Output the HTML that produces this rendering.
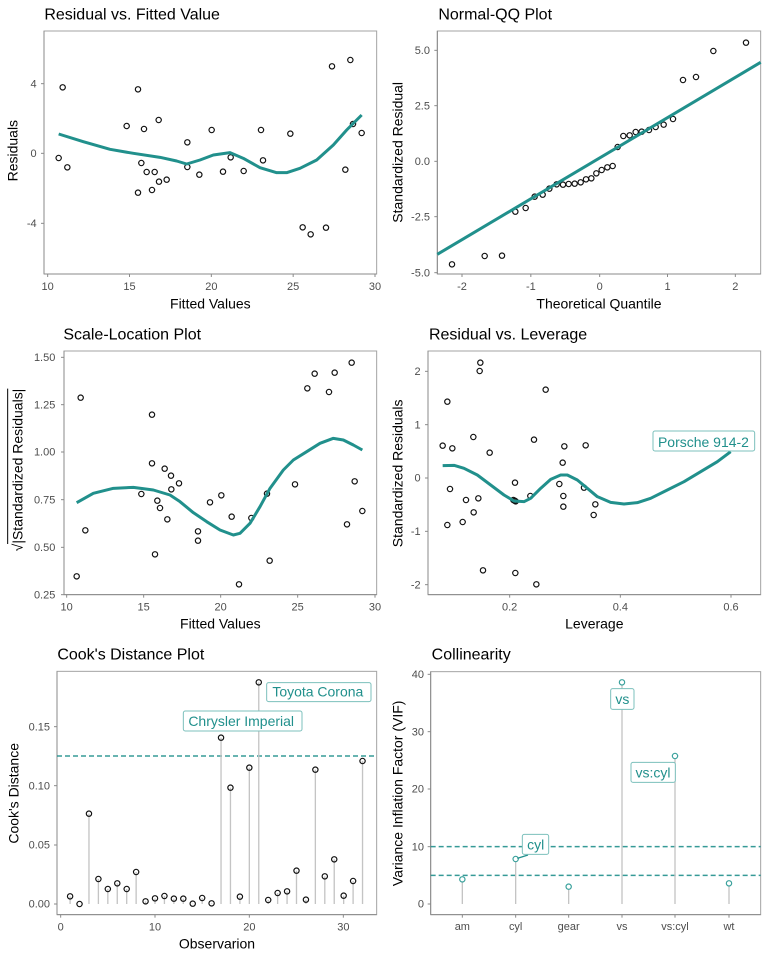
<!DOCTYPE html>
<html><head><meta charset="utf-8"><style>
html,body{margin:0;padding:0;background:#fff;}
svg{display:block;font-family:"Liberation Sans",Arial,sans-serif;}
.t{font-size:48px;fill:#000;}
.tk{font-size:33px;fill:#4d4d4d;}
.at{font-size:42px;fill:#000;}
.bd{fill:none;stroke:#a3a3a3;stroke-width:3;}
.ax{stroke:#8a8a8a;stroke-width:3;}
.pt circle{fill:none;stroke:#111;stroke-width:3.5;}
.cv{fill:none;stroke:#21908C;stroke-width:9;stroke-linejoin:round;stroke-linecap:butt;}
.dash{stroke:#21908C;stroke-width:4.5;stroke-dasharray:15 9;opacity:0.9;}
.stem{stroke:#c4c4c4;stroke-width:4;}
.lb rect{fill:#fff;stroke:#7cc0bc;stroke-width:3;}
.lb text{font-size:42px;fill:#21908C;}
</style></head><body>
<svg width="768" height="960" viewBox="0 0 768 960" xmlns="http://www.w3.org/2000/svg">

<!-- Panel 1 -->
<g transform="translate(0,0) scale(0.333333)">
<text class="t" x="133" y="58">Residual vs. Fitted Value</text>
<rect class="bd" x="132" y="93" width="998" height="729"/>
<line class="ax" x1="132" y1="93" x2="132" y2="822"/><line class="ax" x1="132" y1="822" x2="1130" y2="822"/>
<g class="ax"><line x1="143" y1="822" x2="143" y2="831"/><line x1="388.5" y1="822" x2="388.5" y2="831"/><line x1="634" y1="822" x2="634" y2="831"/><line x1="879.5" y1="822" x2="879.5" y2="831"/><line x1="1125" y1="822" x2="1125" y2="831"/>
<line x1="123" y1="251" x2="132" y2="251"/><line x1="123" y1="460" x2="132" y2="460"/><line x1="123" y1="670" x2="132" y2="670"/></g>
<g class="tk" text-anchor="middle"><text x="143" y="870">10</text><text x="388.5" y="870">15</text><text x="634" y="870">20</text><text x="879.5" y="870">25</text><text x="1125" y="870">30</text></g>
<g class="tk" text-anchor="end"><text x="110" y="262">4</text><text x="110" y="471">0</text><text x="110" y="681">-4</text></g>
<text class="at" x="631" y="925" text-anchor="middle">Fitted Values</text>
<text class="at" transform="translate(53,452) rotate(-90)" text-anchor="middle">Residuals</text>
<g class="pt">
<circle cx="176" cy="474" r="8"/><circle cx="188" cy="262" r="8"/><circle cx="202" cy="502" r="8"/><circle cx="380" cy="378" r="8"/><circle cx="414" cy="268" r="8"/><circle cx="414" cy="578" r="8"/><circle cx="424" cy="489" r="8"/><circle cx="432" cy="387" r="8"/><circle cx="440" cy="516" r="8"/><circle cx="456" cy="570" r="8"/><circle cx="464" cy="516" r="8"/><circle cx="476" cy="360" r="8"/><circle cx="477" cy="545" r="8"/><circle cx="500" cy="539" r="8"/><circle cx="562" cy="427" r="8"/><circle cx="562" cy="501" r="8"/><circle cx="598" cy="524" r="8"/><circle cx="635" cy="390" r="8"/><circle cx="669" cy="515" r="8"/><circle cx="692" cy="472" r="8"/><circle cx="731" cy="513" r="8"/><circle cx="783" cy="390" r="8"/><circle cx="789" cy="481" r="8"/><circle cx="871" cy="401" r="8"/><circle cx="908" cy="682" r="8"/><circle cx="932" cy="703" r="8"/><circle cx="978" cy="683" r="8"/><circle cx="996" cy="199" r="8"/><circle cx="1036" cy="509" r="8"/><circle cx="1051" cy="180" r="8"/><circle cx="1059" cy="372" r="8"/><circle cx="1085" cy="399" r="8"/>
</g>
<polyline class="cv" points="176,402 250,425 330,448 400,460 480,472 530,483 560,492 600,480 640,465 690,458 730,475 780,503 830,518 860,518 900,505 950,480 1000,435 1040,390 1085,345"/>
</g>

<!-- Panel 2 -->
<g transform="translate(384,0) scale(0.333333)">
<text class="t" x="163" y="58">Normal-QQ Plot</text>
<rect class="bd" x="160" y="93" width="970" height="729"/>
<line class="ax" x1="160" y1="93" x2="160" y2="822"/><line class="ax" x1="160" y1="822" x2="1130" y2="822"/>
<g class="ax"><line x1="234" y1="822" x2="234" y2="831"/><line x1="440.5" y1="822" x2="440.5" y2="831"/><line x1="647" y1="822" x2="647" y2="831"/><line x1="850.5" y1="822" x2="850.5" y2="831"/><line x1="1054" y1="822" x2="1054" y2="831"/>
<line x1="151" y1="151" x2="160" y2="151"/><line x1="151" y1="317" x2="160" y2="317"/><line x1="151" y1="484" x2="160" y2="484"/><line x1="151" y1="650" x2="160" y2="650"/><line x1="151" y1="818" x2="160" y2="818"/></g>
<g class="tk" text-anchor="middle"><text x="234" y="870">-2</text><text x="440.5" y="870">-1</text><text x="647" y="870">0</text><text x="850.5" y="870">1</text><text x="1054" y="870">2</text></g>
<g class="tk" text-anchor="end"><text x="138" y="162">5.0</text><text x="138" y="328">2.5</text><text x="138" y="495">0.0</text><text x="138" y="661">-2.5</text><text x="138" y="829">-5.0</text></g>
<text class="at" x="645" y="925" text-anchor="middle">Theoretical Quantile</text>
<text class="at" transform="translate(55,457) rotate(-90)" text-anchor="middle">Standardized Residual</text>
<g class="pt">
<circle cx="204" cy="793" r="8"/><circle cx="302" cy="768" r="8"/><circle cx="354" cy="767" r="8"/><circle cx="394" cy="635" r="8"/><circle cx="425" cy="624" r="8"/><circle cx="452" cy="590" r="8"/><circle cx="476" cy="584" r="8"/><circle cx="496" cy="566" r="8"/><circle cx="518" cy="553" r="8"/><circle cx="537" cy="554" r="8"/><circle cx="554" cy="552" r="8"/><circle cx="572" cy="551" r="8"/><circle cx="590" cy="547" r="8"/><circle cx="606" cy="538" r="8"/><circle cx="622" cy="535" r="8"/><circle cx="637" cy="520" r="8"/><circle cx="653" cy="510" r="8"/><circle cx="670" cy="502" r="8"/><circle cx="686" cy="498" r="8"/><circle cx="701" cy="441" r="8"/><circle cx="718" cy="408" r="8"/><circle cx="737" cy="406" r="8"/><circle cx="755" cy="396" r="8"/><circle cx="773" cy="395" r="8"/><circle cx="795" cy="390" r="8"/><circle cx="815" cy="381" r="8"/><circle cx="839" cy="374" r="8"/><circle cx="867" cy="357" r="8"/><circle cx="897" cy="240" r="8"/><circle cx="936" cy="231" r="8"/><circle cx="988" cy="153" r="8"/><circle cx="1086" cy="128" r="8"/>
</g>
<line class="cv" x1="160" y1="763" x2="1130" y2="187"/>
</g>

<!-- Panel 3 -->
<g transform="translate(0,320) scale(0.333333)">
<text class="t" x="190" y="58">Scale-Location Plot</text>
<rect class="bd" x="192" y="93" width="938" height="731"/>
<line class="ax" x1="192" y1="93" x2="192" y2="824"/><line class="ax" x1="192" y1="824" x2="1130" y2="824"/>
<g class="ax"><line x1="200" y1="824" x2="200" y2="833"/><line x1="431" y1="824" x2="431" y2="833"/><line x1="662" y1="824" x2="662" y2="833"/><line x1="893" y1="824" x2="893" y2="833"/><line x1="1125" y1="824" x2="1125" y2="833"/>
<line x1="183" y1="112" x2="192" y2="112"/><line x1="183" y1="254" x2="192" y2="254"/><line x1="183" y1="396" x2="192" y2="396"/><line x1="183" y1="539" x2="192" y2="539"/><line x1="183" y1="682" x2="192" y2="682"/><line x1="183" y1="824" x2="192" y2="824"/></g>
<g class="tk" text-anchor="middle"><text x="200" y="872">10</text><text x="431" y="872">15</text><text x="662" y="872">20</text><text x="893" y="872">25</text><text x="1125" y="872">30</text></g>
<g class="tk" text-anchor="end"><text x="166" y="123">1.50</text><text x="166" y="265">1.25</text><text x="166" y="407">1.00</text><text x="166" y="550">0.75</text><text x="166" y="693">0.50</text><text x="166" y="835">0.25</text></g>
<text class="at" x="661" y="925" text-anchor="middle">Fitted Values</text>
<text class="at" transform="translate(68,450) rotate(-90)" text-anchor="middle">√|Standardized Residuals|</text>
<line x1="23" y1="206" x2="23" y2="672" stroke="#000" stroke-width="3"/>
<g class="pt">
<circle cx="230" cy="769" r="8"/><circle cx="242" cy="233" r="8"/><circle cx="256" cy="631" r="8"/><circle cx="424" cy="522" r="8"/><circle cx="456" cy="284" r="8"/><circle cx="456" cy="430" r="8"/><circle cx="465" cy="703" r="8"/><circle cx="472" cy="542" r="8"/><circle cx="480" cy="564" r="8"/><circle cx="494" cy="446" r="8"/><circle cx="502" cy="598" r="8"/><circle cx="513" cy="467" r="8"/><circle cx="514" cy="508" r="8"/><circle cx="537" cy="490" r="8"/><circle cx="594" cy="634" r="8"/><circle cx="594" cy="662" r="8"/><circle cx="630" cy="547" r="8"/><circle cx="664" cy="526" r="8"/><circle cx="695" cy="590" r="8"/><circle cx="717" cy="793" r="8"/><circle cx="754" cy="594" r="8"/><circle cx="801" cy="521" r="8"/><circle cx="809" cy="722" r="8"/><circle cx="885" cy="493" r="8"/><circle cx="922" cy="205" r="8"/><circle cx="944" cy="161" r="8"/><circle cx="987" cy="216" r="8"/><circle cx="1004" cy="158" r="8"/><circle cx="1041" cy="613" r="8"/><circle cx="1055" cy="128" r="8"/><circle cx="1064" cy="484" r="8"/><circle cx="1087" cy="573" r="8"/>
</g>
<polyline class="cv" points="230,548 280,520 340,505 400,502 460,510 510,525 540,545 580,578 620,605 660,630 700,645 720,640 750,610 780,560 810,505 850,450 880,420 920,395 960,370 1000,355 1030,360 1060,375 1087,390"/>
</g>

<!-- Panel 4 -->
<g transform="translate(384,320) scale(0.333333)">
<text class="t" x="135" y="58">Residual vs. Leverage</text>
<rect class="bd" x="132" y="93" width="998" height="731"/>
<line class="ax" x1="132" y1="93" x2="132" y2="824"/><line class="ax" x1="132" y1="824" x2="1130" y2="824"/>
<g class="ax"><line x1="377" y1="824" x2="377" y2="833"/><line x1="709" y1="824" x2="709" y2="833"/><line x1="1041" y1="824" x2="1041" y2="833"/>
<line x1="123" y1="154" x2="132" y2="154"/><line x1="123" y1="314" x2="132" y2="314"/><line x1="123" y1="474" x2="132" y2="474"/><line x1="123" y1="634" x2="132" y2="634"/><line x1="123" y1="794" x2="132" y2="794"/></g>
<g class="tk" text-anchor="middle"><text x="377" y="872">0.2</text><text x="709" y="872">0.4</text><text x="1041" y="872">0.6</text></g>
<g class="tk" text-anchor="end"><text x="110" y="165">2</text><text x="110" y="325">1</text><text x="110" y="485">0</text><text x="110" y="645">-1</text><text x="110" y="805">-2</text></g>
<text class="at" x="631" y="925" text-anchor="middle">Leverage</text>
<text class="at" transform="translate(55,460) rotate(-90)" text-anchor="middle">Standardized Residuals</text>
<g class="pt">
<circle cx="176" cy="377" r="8"/><circle cx="190" cy="245" r="8"/><circle cx="190" cy="615" r="8"/><circle cx="198" cy="507" r="8"/><circle cx="205" cy="385" r="8"/><circle cx="236" cy="606" r="8"/><circle cx="246" cy="540" r="8"/><circle cx="268" cy="351" r="8"/><circle cx="269" cy="577" r="8"/><circle cx="283" cy="535" r="8"/><circle cx="287" cy="153" r="8"/><circle cx="289" cy="128" r="8"/><circle cx="297" cy="751" r="8"/><circle cx="317" cy="398" r="8"/><circle cx="393" cy="488" r="8"/><circle cx="392" cy="542" r="8"/><circle cx="388" cy="540" r="8"/><circle cx="395" cy="544" r="8"/><circle cx="394" cy="759" r="8"/><circle cx="439" cy="528" r="8"/><circle cx="450" cy="359" r="8"/><circle cx="457" cy="793" r="8"/><circle cx="485" cy="209" r="8"/><circle cx="526" cy="492" r="8"/><circle cx="536" cy="428" r="8"/><circle cx="538" cy="528" r="8"/><circle cx="538" cy="560" r="8"/><circle cx="541" cy="379" r="8"/><circle cx="600" cy="503" r="8"/><circle cx="605" cy="376" r="8"/><circle cx="629" cy="585" r="8"/><circle cx="634" cy="553" r="8"/>
</g>
<polyline class="cv" points="176,437 210,436 240,445 280,465 320,495 360,525 390,543 420,545 440,535 470,505 500,478 530,465 550,465 580,480 610,505 640,530 680,547 720,552 760,548 800,535 850,510 900,485 950,455 1000,425 1040,395"/>
<g class="lb"><rect x="807" y="333" width="305" height="60" rx="6"/><text x="822" y="381">Porsche 914-2</text></g>
</g>

<!-- Panel 5 -->
<g transform="translate(0,640) scale(0.333333)">
<text class="t" x="172" y="58">Cook's Distance Plot</text>
<rect class="bd" x="171" y="94" width="959" height="730"/>
<line class="ax" x1="171" y1="94" x2="171" y2="824"/><line class="ax" x1="171" y1="824" x2="1130" y2="824"/>
<g class="ax"><line x1="182" y1="824" x2="182" y2="833"/><line x1="465" y1="824" x2="465" y2="833"/><line x1="748" y1="824" x2="748" y2="833"/><line x1="1030" y1="824" x2="1030" y2="833"/>
<line x1="162" y1="260" x2="171" y2="260"/><line x1="162" y1="437" x2="171" y2="437"/><line x1="162" y1="615" x2="171" y2="615"/><line x1="162" y1="792" x2="171" y2="792"/></g>
<g class="tk" text-anchor="middle"><text x="182" y="872">0</text><text x="465" y="872">10</text><text x="748" y="872">20</text><text x="1030" y="872">30</text></g>
<g class="tk" text-anchor="end"><text x="150" y="271">0.15</text><text x="150" y="448">0.10</text><text x="150" y="626">0.05</text><text x="150" y="803">0.00</text></g>
<text class="at" x="651" y="925" text-anchor="middle">Observarion</text>
<text class="at" transform="translate(55,460) rotate(-90)" text-anchor="middle">Cook's Distance</text>
<line class="dash" x1="171" y1="348" x2="1130" y2="348"/>
<g class="stem">
<line x1="210.3" y1="792" x2="210.3" y2="769"/><line x1="238.6" y1="792" x2="238.6" y2="792"/><line x1="266.9" y1="792" x2="266.9" y2="521"/><line x1="295.2" y1="792" x2="295.2" y2="717"/><line x1="323.5" y1="792" x2="323.5" y2="747"/><line x1="351.8" y1="792" x2="351.8" y2="730"/><line x1="380.1" y1="792" x2="380.1" y2="747"/><line x1="408.4" y1="792" x2="408.4" y2="696"/><line x1="436.7" y1="792" x2="436.7" y2="784"/><line x1="465" y1="792" x2="465" y2="775"/><line x1="493.3" y1="792" x2="493.3" y2="768"/><line x1="521.6" y1="792" x2="521.6" y2="776"/><line x1="549.9" y1="792" x2="549.9" y2="776"/><line x1="578.2" y1="792" x2="578.2" y2="791"/><line x1="606.5" y1="792" x2="606.5" y2="774"/><line x1="634.8" y1="792" x2="634.8" y2="790"/><line x1="663.1" y1="792" x2="663.1" y2="293"/><line x1="691.4" y1="792" x2="691.4" y2="443"/><line x1="719.7" y1="792" x2="719.7" y2="770"/><line x1="748" y1="792" x2="748" y2="383"/><line x1="776.3" y1="792" x2="776.3" y2="127"/><line x1="804.6" y1="792" x2="804.6" y2="780"/><line x1="832.9" y1="792" x2="832.9" y2="759"/><line x1="861.2" y1="792" x2="861.2" y2="754"/><line x1="889.5" y1="792" x2="889.5" y2="692"/><line x1="917.8" y1="792" x2="917.8" y2="779"/><line x1="946.1" y1="792" x2="946.1" y2="389"/><line x1="974.4" y1="792" x2="974.4" y2="709"/><line x1="1002.7" y1="792" x2="1002.7" y2="658"/><line x1="1031" y1="792" x2="1031" y2="767"/><line x1="1059.3" y1="792" x2="1059.3" y2="723"/><line x1="1087.6" y1="792" x2="1087.6" y2="363"/>
</g>
<g class="pt">
<circle cx="210.3" cy="769" r="8"/><circle cx="238.6" cy="792" r="8"/><circle cx="266.9" cy="521" r="8"/><circle cx="295.2" cy="717" r="8"/><circle cx="323.5" cy="747" r="8"/><circle cx="351.8" cy="730" r="8"/><circle cx="380.1" cy="747" r="8"/><circle cx="408.4" cy="696" r="8"/><circle cx="436.7" cy="784" r="8"/><circle cx="465" cy="775" r="8"/><circle cx="493.3" cy="768" r="8"/><circle cx="521.6" cy="776" r="8"/><circle cx="549.9" cy="776" r="8"/><circle cx="578.2" cy="791" r="8"/><circle cx="606.5" cy="774" r="8"/><circle cx="634.8" cy="790" r="8"/><circle cx="663.1" cy="293" r="8"/><circle cx="691.4" cy="443" r="8"/><circle cx="719.7" cy="770" r="8"/><circle cx="748" cy="383" r="8"/><circle cx="776.3" cy="127" r="8"/><circle cx="804.6" cy="780" r="8"/><circle cx="832.9" cy="759" r="8"/><circle cx="861.2" cy="754" r="8"/><circle cx="889.5" cy="692" r="8"/><circle cx="917.8" cy="779" r="8"/><circle cx="946.1" cy="389" r="8"/><circle cx="974.4" cy="709" r="8"/><circle cx="1002.7" cy="658" r="8"/><circle cx="1031" cy="767" r="8"/><circle cx="1059.3" cy="723" r="8"/><circle cx="1087.6" cy="363" r="8"/>
</g>
<g class="lb"><rect x="550" y="213" width="356" height="60" rx="6"/><text x="565" y="258">Chrysler Imperial</text></g>
<g class="lb"><rect x="800" y="128" width="313" height="57" rx="6"/><text x="817" y="170">Toyota Corona</text></g>
</g>

<!-- Panel 6 -->
<g transform="translate(384,640) scale(0.333333)">
<text class="t" x="143" y="58">Collinearity</text>
<rect class="bd" x="140" y="95" width="990" height="729"/>
<line class="ax" x1="140" y1="95" x2="140" y2="824"/><line class="ax" x1="140" y1="824" x2="1130" y2="824"/>
<g class="ax"><line x1="235" y1="824" x2="235" y2="833"/><line x1="395" y1="824" x2="395" y2="833"/><line x1="554" y1="824" x2="554" y2="833"/><line x1="714" y1="824" x2="714" y2="833"/><line x1="873" y1="824" x2="873" y2="833"/><line x1="1035" y1="824" x2="1035" y2="833"/>
<line x1="131" y1="103" x2="140" y2="103"/><line x1="131" y1="275" x2="140" y2="275"/><line x1="131" y1="447" x2="140" y2="447"/><line x1="131" y1="620" x2="140" y2="620"/><line x1="131" y1="792" x2="140" y2="792"/></g>
<g class="tk" text-anchor="middle"><text x="235" y="870">am</text><text x="395" y="870">cyl</text><text x="554" y="870">gear</text><text x="714" y="870">vs</text><text x="873" y="870">vs:cyl</text><text x="1035" y="870">wt</text></g>
<g class="tk" text-anchor="end"><text x="120" y="114">40</text><text x="120" y="286">30</text><text x="120" y="458">20</text><text x="120" y="631">10</text><text x="120" y="803">0</text></g>
<text class="at" transform="translate(55,460) rotate(-90)" text-anchor="middle">Variance Inflation Factor (VIF)</text>
<line class="dash" x1="140" y1="620" x2="1130" y2="620"/>
<line class="dash" x1="140" y1="706" x2="1130" y2="706"/>
<g class="stem">
<line x1="235" y1="792" x2="235" y2="718"/><line x1="395" y1="792" x2="395" y2="657"/><line x1="554" y1="792" x2="554" y2="740"/><line x1="714" y1="792" x2="714" y2="127"/><line x1="873" y1="792" x2="873" y2="348"/><line x1="1035" y1="792" x2="1035" y2="730"/>
</g>
<g fill="#fff" stroke="#3aa19c" stroke-width="3.5">
<circle cx="235" cy="718" r="8"/><circle cx="395" cy="657" r="8"/><circle cx="554" cy="740" r="8"/><circle cx="714" cy="127" r="8"/><circle cx="873" cy="348" r="8"/><circle cx="1035" cy="730" r="8"/>
</g>
<line x1="400" y1="655" x2="432" y2="645" stroke="#21908C" stroke-width="4"/>
<g class="lb" text-anchor="middle">
<rect x="680" y="146" width="70" height="62" rx="6"/><text x="715" y="192">vs</text>
<rect x="741" y="367" width="133" height="60" rx="6"/><text x="807" y="413">vs:cyl</text>
<rect x="415" y="583" width="79" height="60" rx="6"/><text x="455" y="628">cyl</text>
</g>
</g>
</svg>
</body></html>
